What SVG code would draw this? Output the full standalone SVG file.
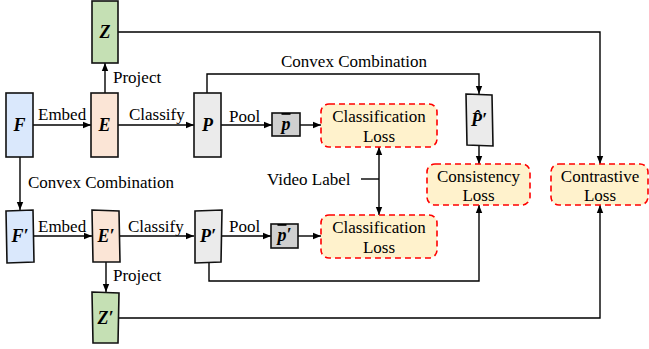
<svg xmlns="http://www.w3.org/2000/svg" width="649" height="349" viewBox="0 0 649 349" font-family="'Liberation Serif', 'Times New Roman', serif">
<style>
text{font-family:'Liberation Serif','Times New Roman',serif;fill:#000}
.lbl{font-size:17px}
.node{font-size:18px;font-weight:bold;font-style:italic;text-anchor:middle}
.ln{fill:none;stroke:#000;stroke-width:1.4}
.box{stroke:#111;stroke-width:1.6}
.loss{fill:#fff2cc;stroke:#ff0000;stroke-width:1.6;stroke-dasharray:6,4}
.lt{font-size:17px;text-anchor:middle}
</style>
<defs>
<marker id="ah" markerUnits="userSpaceOnUse" markerWidth="8" markerHeight="8" refX="8" refY="4" orient="auto">
<path d="M0,0.8 L8,4 L0,7.2 z" fill="#000"/>
</marker>
</defs>
<rect width="649" height="349" fill="#fff"/>
<g id="connectors">
<line class="ln" x1="33" y1="125" x2="91" y2="125" marker-end="url(#ah)"/>
<line class="ln" x1="118" y1="125" x2="194" y2="125" marker-end="url(#ah)"/>
<line class="ln" x1="105" y1="93" x2="105" y2="63" marker-end="url(#ah)"/>
<line class="ln" x1="221" y1="125" x2="272" y2="125" marker-end="url(#ah)"/>
<line class="ln" x1="300" y1="125" x2="321" y2="125" marker-end="url(#ah)"/>
<polyline class="ln" points="207,93 207,74 479,74 479,94" marker-end="url(#ah)"/>
<line class="ln" x1="479" y1="146" x2="479" y2="164" marker-end="url(#ah)"/>
<polyline class="ln" points="118,32 600,32 600,164" marker-end="url(#ah)"/>
<line class="ln" x1="20" y1="157" x2="20" y2="210" marker-end="url(#ah)"/>
<line class="ln" x1="33" y1="236" x2="92" y2="236" marker-end="url(#ah)"/>
<line class="ln" x1="120" y1="236" x2="194" y2="236" marker-end="url(#ah)"/>
<line class="ln" x1="106" y1="262" x2="106" y2="292" marker-end="url(#ah)"/>
<line class="ln" x1="222" y1="236" x2="271" y2="236" marker-end="url(#ah)"/>
<line class="ln" x1="298" y1="236" x2="321" y2="236" marker-end="url(#ah)"/>
<polyline class="ln" points="209,262 209,281 479,281 479,205" marker-end="url(#ah)"/>
<polyline class="ln" points="119,318 600,318 600,205" marker-end="url(#ah)"/>
<line class="ln" x1="361" y1="179" x2="379" y2="179"/>
<line class="ln" x1="379" y1="179" x2="379" y2="147" marker-end="url(#ah)"/>
<line class="ln" x1="379" y1="179" x2="379" y2="215" marker-end="url(#ah)"/>
</g>
<g id="labels">
<text class="lbl" x="38" y="120">Embed</text>
<text class="lbl" x="129" y="120">Classify</text>
<text class="lbl" x="113" y="83">Project</text>
<text class="lbl" x="281" y="67">Convex Combination</text>
<text class="lbl" x="229" y="122">Pool</text>
<text class="lbl" x="28" y="188">Convex Combination</text>
<text class="lbl" x="267" y="185">Video Label</text>
<text class="lbl" x="38" y="232">Embed</text>
<text class="lbl" x="128" y="232">Classify</text>
<text class="lbl" x="113" y="281">Project</text>
<text class="lbl" x="229" y="232">Pool</text>
</g>
<g id="Z"><rect class="box" x="92" y="1" width="26" height="62" fill="#c5e0b4"/><text class="node" x="105" y="38">Z</text></g>
<g id="F"><rect class="box" x="6" y="93" width="27" height="64" fill="#dae8fc"/><text class="node" x="19.5" y="131">F</text></g>
<g id="E"><rect class="box" x="91" y="93" width="27" height="64" fill="#fbe5d6"/><text class="node" x="104.5" y="131">E</text></g>
<g id="P"><rect class="box" x="194" y="93" width="27" height="64" fill="#ebebeb"/><text class="node" x="207.5" y="131">P</text></g>
<g id="pbar"><rect class="box" x="272" y="113" width="28" height="23" fill="#d0d0d0"/><text class="node" x="286" y="130"><tspan text-decoration="overline">p</tspan></text></g>
<g id="CL1"><rect class="loss" x="321" y="104" width="116" height="43" rx="8"/><text class="lt" x="379" y="122">Classification</text><text class="lt" x="379" y="142">Loss</text></g>
<g id="Phat"><path class="box" d="M466,94 L492,95 L493,146 L467,145 Z" fill="#ebebeb"/><text class="node" x="479" y="126">P̂′</text></g>
<g id="Consistency"><rect class="loss" x="427" y="164" width="103" height="41" rx="8"/><text class="lt" x="478.5" y="182">Consistency</text><text class="lt" x="478.5" y="201">Loss</text></g>
<g id="Contrastive"><rect class="loss" x="551" y="164" width="97" height="41" rx="8"/><text class="lt" x="600" y="182">Contrastive</text><text class="lt" x="600" y="201">Loss</text></g>
<g id="Fp"><path class="box" d="M6,211 L33,210 L34,262 L7,263 Z" fill="#dae8fc"/><text class="node" x="20" y="242">F′</text></g>
<g id="Ep"><path class="box" d="M92,210 L119,211 L120,262 L93,262 Z" fill="#fbe5d6"/><text class="node" x="106" y="242">E′</text></g>
<g id="Pp"><path class="box" d="M195,211 L222,210 L221,262 L195,263 Z" fill="#ebebeb"/><text class="node" x="208" y="242">P′</text></g>
<g id="pbarp"><rect class="box" x="271" y="224" width="27" height="24" fill="#d0d0d0"/><text class="node" x="284.5" y="241"><tspan text-decoration="overline">p</tspan>′</text></g>
<g id="CL2"><rect class="loss" x="321" y="215" width="116" height="43" rx="8"/><text class="lt" x="379" y="233">Classification</text><text class="lt" x="379" y="253">Loss</text></g>
<g id="Zp"><path class="box" d="M92,292 L119,293 L118,343 L93,343 Z" fill="#c5e0b4"/><text class="node" x="105.5" y="324">Z′</text></g>
</svg>
